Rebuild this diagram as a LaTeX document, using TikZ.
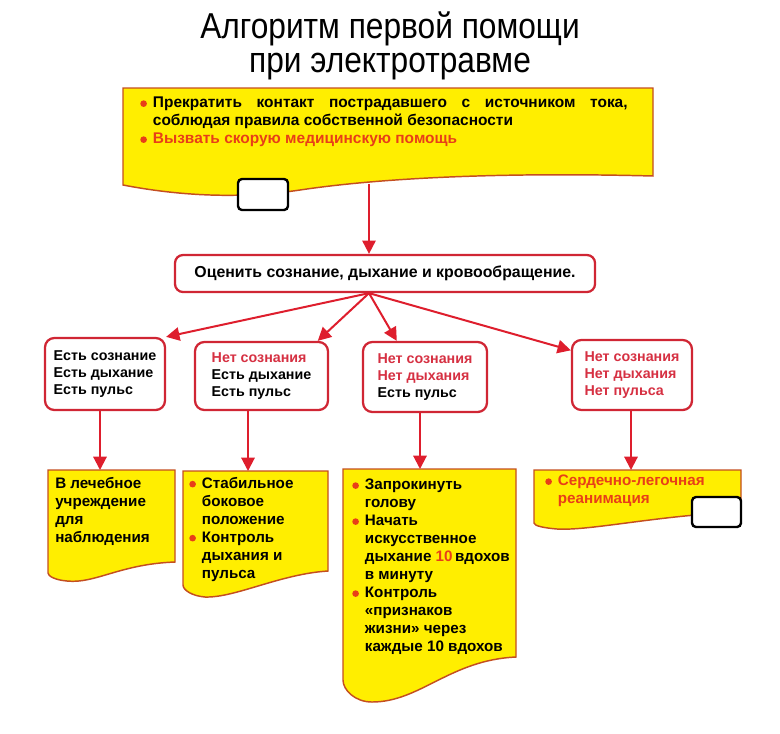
\documentclass[tikz,border=0pt]{standalone}
\usepackage{fontspec}
\setmainfont{Liberation Sans}
\newfontfamily\titlefont[FakeStretch=0.88]{Liberation Sans}
\usetikzlibrary{arrows.meta}
\definecolor{docyellow}{RGB}{255,238,0}
\definecolor{docline}{RGB}{196,78,32}
\definecolor{boxred}{RGB}{208,38,52}
\definecolor{txtred}{RGB}{214,48,66}
\definecolor{txtorange}{RGB}{232,62,24}
\definecolor{arrred}{RGB}{222,30,45}
\newcommand{\bul}{\makebox[9.5pt][l]{\tikz[baseline=-3.2pt,x=1pt,y=1pt]\fill[txtorange] (0,0) circle (2.5pt);}}
\newcommand{\cnt}{\hspace*{9.5pt}}
\begin{document}
\begin{tikzpicture}[x=0.75pt, y=-0.75pt,
  state/.style={draw=boxred, line width=1.7pt, rounded corners=7pt, fill=white, align=left,
    inner sep=0pt, font=\bfseries\fontsize{10.7}{12.8}\selectfont},
  doctext/.style={anchor=north west, align=left, inner sep=0pt,
    font=\bfseries\fontsize{11.4}{13.5}\selectfont},
  docshape/.style={fill=docyellow, draw=docline, line width=1.1pt},
  blank/.style={draw=black, fill=white, line width=1.8pt, rounded corners=3pt},
  arr/.style={draw=arrred, line width=1.5pt, -{Triangle[length=10pt,width=10pt]}}]
\useasboundingbox (0,0) rectangle (780,733);

\node[align=center, inner sep=0pt, font=\titlefont\fontsize{27}{26}\selectfont] (title) at (390,46)
  {Алгоритм первой помощи\\при электротравме};

% yellow document shapes
\draw[docshape] (123,88) -- (653,88) -- (653,176) .. controls (500,172) and (380,178) .. (300,190)
  .. controls (240,199) and (180,196) .. (123,185) -- cycle;
\draw[docshape] (48,470) -- (175,470) -- (175,562) .. controls (120,564) and (95,584) .. (67,581)
  .. controls (55,580) and (48,576) .. (48,573) -- cycle;
\draw[docshape] (183,471) -- (328,471) -- (328,571) .. controls (280,574) and (235,598) .. (205,597)
  .. controls (192,596) and (183,590) .. (183,585) -- cycle;
\draw[docshape] (343,469) -- (516,469) -- (516,657) .. controls (450,660) and (420,702) .. (372,702)
  .. controls (355,702) and (343,690) .. (343,680) -- cycle;
\draw[docshape] (534,470) -- (741,470) -- (741,512) .. controls (660,515) and (590,531) .. (557,529)
  .. controls (545,528) and (534,526) .. (534,523) -- cycle;

\node[doctext, font=\bfseries\fontsize{11.6}{13.5}\selectfont] (top) at (140,97)
  {\bul\makebox[356pt][s]{Прекратить контакт пострадавшего с источником тока,}\\
   \cnt соблюдая правила собственной безопасности\\
   \bul\textcolor{txtorange}{Вызвать скорую медицинскую помощь}};
\node[doctext] (d1) at (55,477) {В лечебное\\учреждение\\для\\наблюдения};
\node[doctext] (d2) at (189,477)
  {\bul Стабильное\\\cnt боковое\\\cnt положение\\\bul Контроль\\\cnt дыхания и\\\cnt пульса};
\node[doctext] (d3) at (352,479)
  {\bul Запрокинуть\\\cnt голову\\\bul Начать\\\cnt искусственное\\
   \cnt дыхание \textcolor{txtorange}{10}\,вдохов\\\cnt в минуту\\\bul Контроль\\
   \cnt «признаков\\\cnt жизни» через\\\cnt каждые 10 вдохов};
\node[doctext, text=txtorange] (d4) at (545,475) {\bul Сердечно-легочная\\\cnt реанимация};

\node[blank, minimum width=37.5pt, minimum height=23.25pt] (blanktop) at (263,194.5) {};
\node[blank, minimum width=36.75pt, minimum height=22.5pt] (blankcpr) at (716.5,512) {};

% assessment and states
\node[state, align=center, rounded corners=6pt, minimum width=315pt, minimum height=27.75pt,
  font=\bfseries\fontsize{11.9}{13}\selectfont] (mid) at (385,273.5)
  {Оценить сознание, дыхание и кровообращение.};

\node[state, minimum width=90pt, minimum height=54pt] (s1) at (105,374)
  {Есть сознание\\Есть дыхание\\Есть пульс};
\node[state, minimum width=99.75pt, minimum height=51pt] (s2) at (261.5,376)
  {\textcolor{txtred}{Нет сознания}\\Есть дыхание\\Есть пульс};
\node[state, minimum width=93pt, minimum height=52.5pt] (s3) at (425,377)
  {\textcolor{txtred}{Нет сознания}\\\textcolor{txtred}{Нет дыхания}\\Есть пульс};
\node[state, text=txtred, minimum width=90pt, minimum height=52.5pt] (s4) at (632,375)
  {Нет сознания\\Нет дыхания\\Нет пульса};

% connectors
\coordinate (a0) at (369,184);
\coordinate (fan) at (a0 |- mid.south);
\draw[arr] (a0) -- (a0 |- mid.north);
\draw[arr] (fan) -- (s1.north east);
\draw[arr] (fan) -- (s2.32);
\draw[arr] (fan) -- (s3.128);
\draw[arr] (fan) -- (s4.158);

\coordinate (t1) at (100,470);
\coordinate (t2) at (248,471);
\coordinate (t3) at (420,469);
\coordinate (t4) at (631,470);
\draw[arr] (t1 |- s1.south) -- (t1);
\draw[arr] (t2 |- s2.south) -- (t2);
\draw[arr] (t3 |- s3.south) -- (t3);
\draw[arr] (t4 |- s4.south) -- (t4);

\end{tikzpicture}
\end{document}
